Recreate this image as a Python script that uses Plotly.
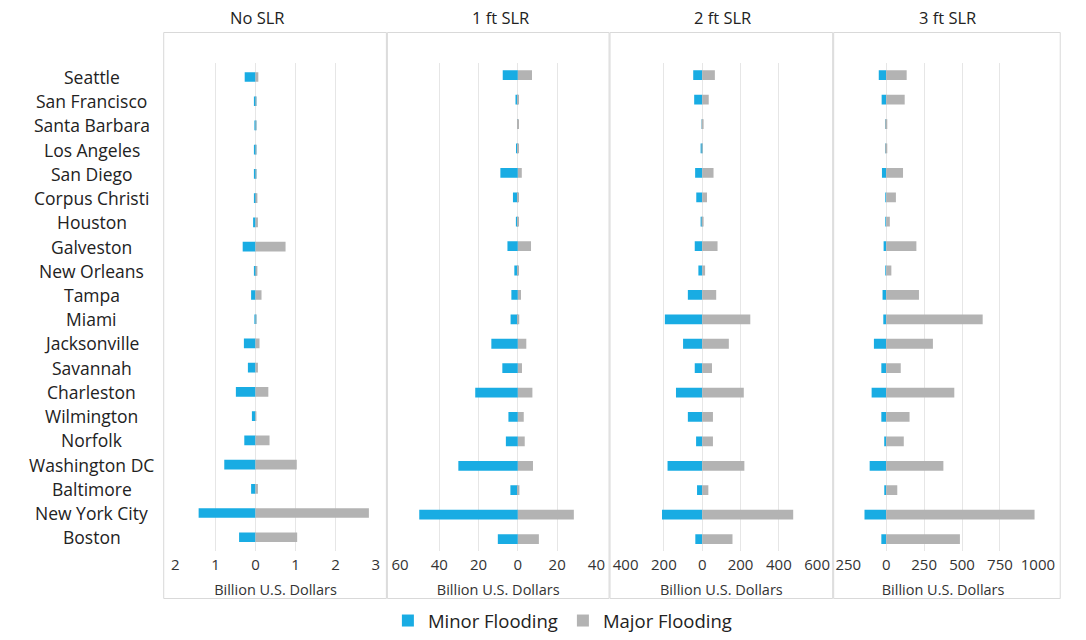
import plotly.graph_objects as go

# Coastal cities, top to bottom
cities = ["Seattle", "San Francisco", "Santa Barbara", "Los Angeles", "San Diego",
          "Corpus Christi", "Houston", "Galveston", "New Orleans", "Tampa", "Miami",
          "Jacksonville", "Savannah", "Charleston", "Wilmington", "Norfolk",
          "Washington DC", "Baltimore", "New York City", "Boston"]

scenarios = ["No SLR", "1 ft SLR", "2 ft SLR", "3 ft SLR"]

# Minor flooding damages (billion USD), drawn to the left of zero
minor_no_slr = [0.27, 0.04, 0.01, 0.04, 0.04, 0.04, 0.06, 0.32, 0.04, 0.11, 0.02,
                0.29, 0.19, 0.49, 0.09, 0.28, 0.78, 0.11, 1.42, 0.41]
minor_1ft = [7.7, 1.2, 0.2, 0.7, 8.9, 2.5, 1.0, 5.3, 1.8, 3.3, 3.7,
             13.5, 7.9, 21.7, 4.8, 6.1, 30.3, 3.8, 50.2, 10.2]
minor_2ft = [47, 42, 2, 5, 37, 31, 7, 39, 20, 75, 195,
             100, 39, 137, 75, 32, 181, 27, 210, 36]
minor_3ft = [49, 30, 2, 2, 28, 4, 2, 17, 2, 24, 19,
             81, 32, 96, 32, 13, 109, 11, 143, 32]

# Major flooding damages (billion USD), drawn to the right of zero
major_no_slr = [0.07, 0.01, 0.01, 0.01, 0.01, 0.03, 0.06, 0.75, 0.03, 0.15, 0.02,
                0.10, 0.06, 0.32, 0.02, 0.35, 1.03, 0.06, 2.83, 1.04]
major_1ft = [7.2, 0.2, 0.3, 0.1, 2.0, 0.5, 0.3, 6.7, 0.3, 1.6, 0.7,
             4.3, 2.1, 7.4, 3.0, 3.5, 7.7, 0.8, 28.5, 10.7]
major_2ft = [66, 34, 2, 1, 59, 25, 7, 80, 15, 73, 251,
             139, 51, 217, 56, 56, 220, 32, 475, 158]
major_3ft = [135, 122, 6, 6, 111, 64, 24, 199, 34, 216, 636,
             308, 96, 449, 154, 116, 377, 73, 978, 486]

# Axis ticks for each panel (values are shown as magnitudes)
ticks_no_slr = [-2, -1, 0, 1, 2, 3]
ticks_1ft = [-60, -40, -20, 0, 20, 40]
ticks_2ft = [-400, -200, 0, 200, 400, 600]
ticks_3ft = [-250, 0, 250, 500, 750, 1000]

minor_sets = [minor_no_slr, minor_1ft, minor_2ft, minor_3ft]
major_sets = [major_no_slr, major_1ft, major_2ft, major_3ft]
tick_sets = [ticks_no_slr, ticks_1ft, ticks_2ft, ticks_3ft]

BLUE = "#19ace3"
GRAY = "#b3b3b3"
FONT = "Open Sans"
W, H = 1086, 640

# Panel geometry in pixels
plot_x = [(167, 373), (398, 600), (630, 827), (859, 1054)]
frame_x = [(155, 384), (385, 613), (614, 843), (844, 1077)]
title_x = [251, 501, 730, 961]
plot_top, plot_bottom = 64, 560

fig = go.Figure()
layout = {}
for i in range(4):
    ax = "" if i == 0 else str(i + 1)
    xref, yref = "x" + ax, "y" + ax
    fig.add_trace(go.Bar(
        y=cities, x=[-v for v in minor_sets[i]], orientation="h",
        marker=dict(color=BLUE, line=dict(width=0)), name="Minor Flooding",
        legendgroup="minor", showlegend=(i == 0), xaxis=xref, yaxis=yref,
        customdata=minor_sets[i], hovertemplate="%{y}: %{customdata}<extra>Minor</extra>"))
    fig.add_trace(go.Bar(
        y=cities, x=major_sets[i], orientation="h",
        marker=dict(color=GRAY, line=dict(width=0)), name="Major Flooding",
        legendgroup="major", showlegend=(i == 0), xaxis=xref, yaxis=yref,
        hovertemplate="%{y}: %{x}<extra>Major</extra>"))
    t = tick_sets[i]
    layout["xaxis" + ax] = dict(
        domain=[plot_x[i][0] / W, plot_x[i][1] / W], anchor=yref,
        range=[t[0], t[-1]], tickvals=t, ticktext=[str(abs(v)) for v in t],
        showgrid=True, gridcolor="#e6e6e6", gridwidth=1, zeroline=False,
        showline=False, ticks="", ticklabelstandoff=3,
        tickfont=dict(family=FONT, size=15, color="#333333"),
        title=dict(text="Billion U.S. Dollars", standoff=11,
                   font=dict(family=FONT, size=14.5, color="#333333")))
    layout["yaxis" + ax] = dict(
        domain=[1 - plot_bottom / H, 1 - plot_top / H], anchor=xref,
        categoryorder="array", categoryarray=cities, autorange="reversed",
        showticklabels=False, showgrid=False, zeroline=False, showline=False)

fig.update_layout(**layout)

shapes = []
for (x0, x1) in frame_x:
    shapes.append(dict(type="rect", xref="paper", yref="paper",
                       x0=x0 / W, x1=x1 / W, y0=1 - 608 / H, y1=1 - 33 / H,
                       line=dict(color="#d9d9d9", width=1), fillcolor="rgba(0,0,0,0)"))

annotations = []
for i, name in enumerate(scenarios):
    annotations.append(dict(text=name, x=title_x[i] / W, y=1 - 18 / H, xref="paper", yref="paper",
                            xanchor="center", yanchor="middle", showarrow=False,
                            font=dict(family=FONT, size=16.5, color="#222222")))
for c in cities:
    annotations.append(dict(text=c, x=81 / W, y=c, xref="paper", yref="y",
                            xanchor="center", yanchor="middle", showarrow=False,
                            font=dict(family=FONT, size=17.5, color="#222222")))

fig.update_layout(
    width=W, height=H, margin=dict(l=0, r=0, t=0, b=0),
    paper_bgcolor="white", plot_bgcolor="white",
    barmode="relative", bargap=0.6,
    shapes=shapes, annotations=annotations,
    legend=dict(orientation="h", x=565 / W, y=1 - 631 / H, xanchor="center", yanchor="middle",
                font=dict(family=FONT, size=18.5, color="#222222"), itemwidth=30,
                traceorder="normal"),
)

fig.write_html("out.html")
